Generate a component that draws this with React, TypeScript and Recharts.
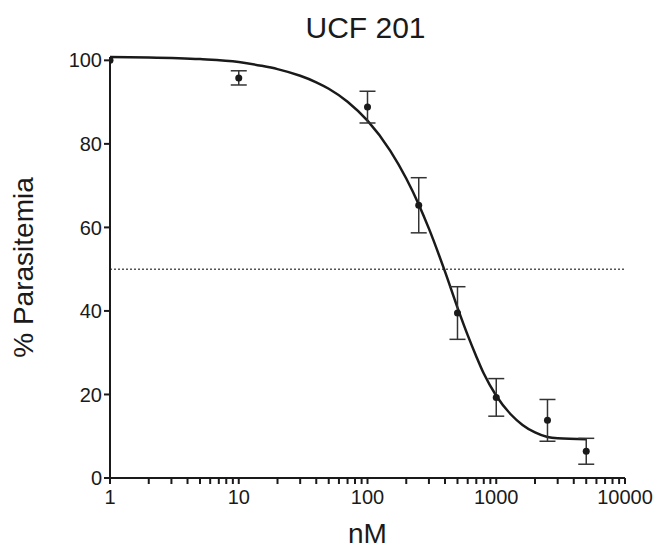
import React from 'react';
import {
  ComposedChart,
  XAxis,
  YAxis,
  Line,
  Scatter,
  ErrorBar,
  ReferenceLine,
  Label,
} from 'recharts';

// measured points (mean ± error)
const doses = [1, 10, 100, 250, 500, 1000, 2500, 5000];
const means = [100, 95.8, 88.8, 65.3, 39.5, 19.3, 13.8, 6.4];
const errors = [0, 1.7, 3.8, 6.6, 6.3, 4.5, 5, 3.1];

// fitted curve
const fitDoses = [1, 2, 5, 10, 15, 20, 30, 40, 50, 70, 100, 150, 200, 250, 300, 400, 500, 600, 700, 800, 1000, 1300, 1600, 2000, 2500, 3000, 5000];
const fitValues = [100.8, 100.7, 100.3, 99.6, 98.7, 97.9, 96.3, 94.75, 93.2, 90.1, 85.55, 78.4, 71.7, 65.5, 59.7, 49.4, 40.8, 34.2, 29.1, 25, 19.7, 15.2, 12.7, 10.9, 9.8, 9.5, 9.3];

const xTicks = [
  1, 2, 3, 4, 5, 6, 7, 8, 9,
  10, 20, 30, 40, 50, 60, 70, 80, 90,
  100, 200, 300, 400, 500, 600, 700, 800, 900,
  1000, 2000, 3000, 4000, 5000, 6000, 7000, 8000, 9000,
  10000,
];
const majorTicks = [1, 10, 100, 1000, 10000];
const yTicks = [0, 20, 40, 60, 80, 100];

const FONT = '"Liberation Sans", Arial, Helvetica, sans-serif';
const INK = '#1a1a1a';

const points = doses.map((d, i) => ({ dose: d, value: means[i], err: errors[i] }));
const fit = fitDoses.map((d, i) => ({ dose: d, value: fitValues[i] }));

const Dot = (props: any) => <circle cx={props.cx} cy={props.cy} r={3.5} fill={INK} />;

export default function App() {
  return (
    <div style={{ position: 'absolute', left: 0, top: 0, width: 656, height: 548, background: '#fff', fontFamily: FONT }}>
      <div
        style={{
          position: 'absolute',
          left: 0,
          width: 731,
          top: 10,
          textAlign: 'center',
          fontSize: 30,
          color: INK,
          lineHeight: '36px',
        }}
      >
        UCF 201
      </div>
      <ComposedChart width={656} height={548} margin={{ top: 57, right: 31, bottom: 0, left: 0 }}>
        <XAxis
          dataKey="dose"
          type="number"
          scale="log"
          domain={[1, 10000]}
          ticks={xTicks}
          interval={0}
          allowDataOverflow
          height={70}
          tickSize={6}
          tickMargin={6}
          stroke={INK}
          strokeWidth={2}
          tick={{ fontSize: 20, fill: INK, fontFamily: FONT }}
          tickFormatter={(v: number) => (majorTicks.includes(v) ? String(v) : '')}
        >
          <Label value="nM" position="insideBottom" offset={5} style={{ fontSize: 28, fill: INK, fontFamily: FONT }} />
        </XAxis>
        <YAxis
          type="number"
          domain={[0, 100]}
          ticks={yTicks}
          interval={0}
          width={110}
          tickSize={6}
          tickMargin={2}
          stroke={INK}
          strokeWidth={2}
          tick={{ fontSize: 20, fill: INK, fontFamily: FONT }}
        >
          <Label
            value="% Parasitemia"
            angle={-90}
            position="insideLeft"
            offset={23}
            style={{ fontSize: 28, fill: INK, fontFamily: FONT, textAnchor: 'middle' }}
          />
        </YAxis>
        <ReferenceLine y={50} stroke="#555" strokeWidth={1.5} strokeDasharray="2 2" />
        <Line
          data={fit}
          dataKey="value"
          type="monotone"
          stroke={INK}
          strokeWidth={2.5}
          dot={false}
          isAnimationActive={false}
        />
        <Scatter data={points} dataKey="value" shape={Dot} isAnimationActive={false}>
          <ErrorBar dataKey="err" direction="y" width={8} stroke="#333" strokeWidth={1.5} />
        </Scatter>
      </ComposedChart>
    </div>
  );
}
